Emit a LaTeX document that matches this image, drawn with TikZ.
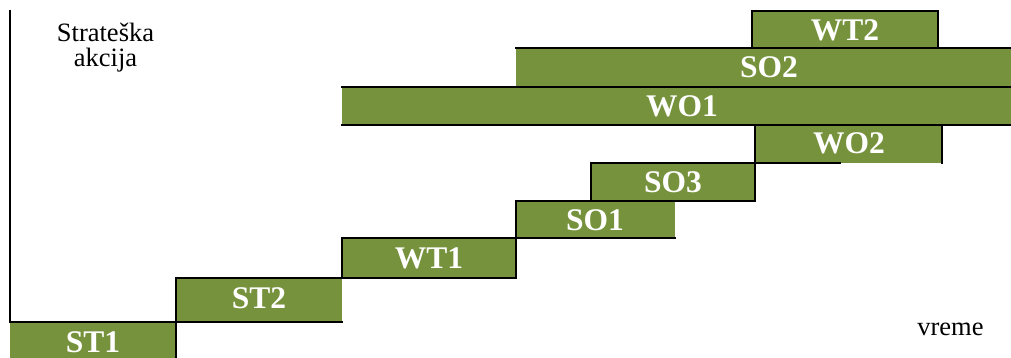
\documentclass[tikz,border=0pt]{standalone}
\usepackage{fontspec}
\setmainfont{Liberation Serif}
\definecolor{olivecell}{RGB}{118,146,60}
\tikzset{
  cellfill/.style={fill=olivecell},
  edge/.style={line width=2.6pt, line cap=rect, line join=miter, draw=black},
  lab/.style={anchor=base, text=white, font=\fontsize{31.5}{31.5}\selectfont\bfseries, inner sep=0pt},
  plain/.style={anchor=base, text=black, font=\fontsize{26.5}{26.5}\selectfont, inner sep=0pt}
}
\begin{document}
\begin{tikzpicture}[x=1pt,y=-1pt]
\useasboundingbox (0,0) rectangle (1011,358);
\clip (0,0) rectangle (1011,358);
% cell fills
\fill[cellfill] (10,322) rectangle (176,362);   % ST1
\fill[cellfill] (176,278) rectangle (342,322);  % ST2
\fill[cellfill] (342,238) rectangle (516,278);  % WT1
\fill[cellfill] (516,201) rectangle (675,238);  % SO1
\fill[cellfill] (591,163) rectangle (755,201);  % SO3
\fill[cellfill] (755,125) rectangle (942,163);  % WO2
\fill[cellfill] (342,87) rectangle (1022,125);  % WO1
\fill[cellfill] (516,48) rectangle (1022,87);   % SO2
\fill[cellfill] (752,11) rectangle (938,48);    % WT2
% borders
\draw[edge] (10,11) -- (10,322) -- (342,322);
\draw[edge] (176,362) -- (176,278) -- (516,278);
\draw[edge] (342,278) -- (342,238) -- (675,238);
\draw[edge] (516,278) -- (516,201) -- (755,201) -- (755,125);
\draw[edge] (591,201) -- (591,163) -- (840,163);
\draw[edge] (942,125) -- (942,163);
\draw[edge] (342,125) -- (1022,125);
\draw[edge] (342,87) -- (1022,87);
\draw[edge] (516,48) -- (1022,48);
\draw[edge] (752,11) rectangle (938,48);
% labels
\node[lab] (st1) at (93,352) {ST1};
\node[lab] (st2) at (259,308) {ST2};
\node[lab] (wt1) at (429,268) {WT1};
\node[lab] (so1) at (595,230) {SO1};
\node[lab] (so3) at (673,193) {SO3};
\node[lab] (wo2) at (849,154) {WO2};
\node[lab] (wo1) at (682,117) {WO1};
\node[lab] (so2) at (769,78) {SO2};
\node[lab] (wt2) at (845,41) {WT2};
\node[plain] (ax1) at (105.5,41.7) {Strateška};
\node[plain] (ax2) at (105.5,67) {akcija};
\node[plain] (time) at (950.5,335) {vreme};
\end{tikzpicture}
\end{document}
